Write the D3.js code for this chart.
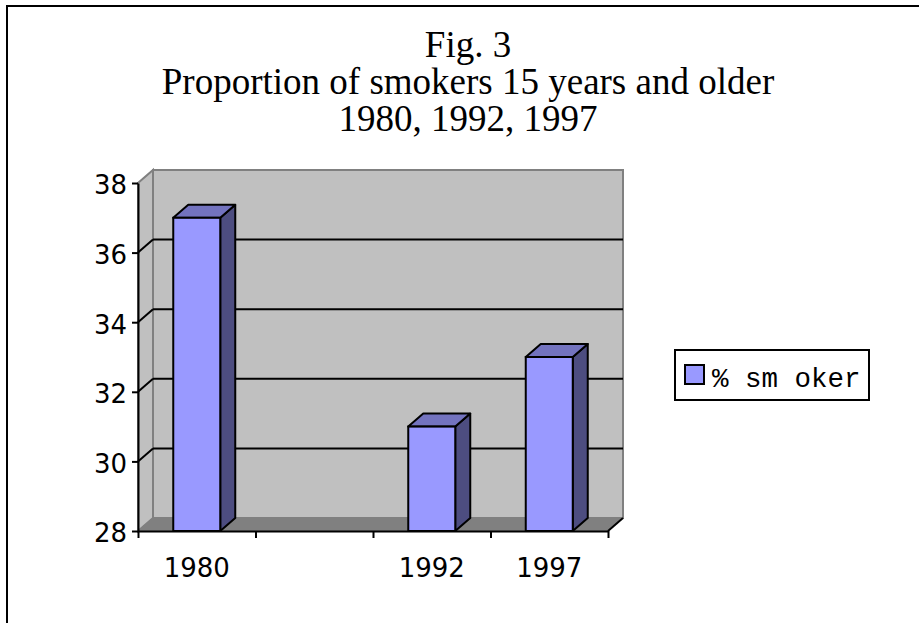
<!DOCTYPE html>
<html>
<head>
<meta charset="utf-8">
<script src="https://cdn.jsdelivr.net/npm/d3@7"></script>
<style>
  body { margin: 0; background: #fff; }
  svg { display: block; }
</style>
</head>
<body>
<div id="chart"></div>
<script>
// data
const categories = ['1980', '', '1992', '1997'];
const smokers = [37, null, 31, 33];
const yTicks = [28, 30, 32, 34, 36, 38];
const titleLines = ['Fig. 3', 'Proportion of smokers 15 years and older', '1980, 1992, 1997'];
const seriesName = '% sm oker';

const W = 919, H = 623;
// depth of the 3D box
const dx = 15, dy = -13;

const svg = d3.select('#chart')
  .append('svg')
  .attr('width', W)
  .attr('height', H);

// outer frame (only top and left edges fall inside the picture)
svg.append('rect')
  .attr('x', 7).attr('y', 6)
  .attr('width', W + 20).attr('height', H + 20)
  .attr('fill', 'none')
  .attr('stroke', '#000')
  .attr('stroke-width', 2);

// title
svg.append('g')
  .selectAll('text')
  .data(titleLines)
  .join('text')
  .attr('x', 468)
  .attr('y', (d, i) => 57 + i * 37)
  .attr('text-anchor', 'middle')
  .attr('font-family', '"Liberation Serif", "Times New Roman", serif')
  .attr('font-size', 37)
  .attr('fill', '#000')
  .text(d => d);

// scales
const x = d3.scaleBand()
  .domain(categories.map((c, i) => i))
  .range([138, 608]);
const xEdge = d3.scaleLinear()
  .domain([0, categories.length])
  .range([138, 608]);
const y = d3.scaleLinear()
  .domain([28, 38])
  .range([531, 183]);

const x0 = x.range()[0], x1 = x.range()[1];
const yTop = y(38), yBot = y(28);

// back wall
svg.append('rect')
  .attr('x', x0 + dx).attr('y', yTop + dy)
  .attr('width', x1 - x0).attr('height', yBot - yTop)
  .attr('fill', '#c0c0c0')
  .attr('stroke', '#808080')
  .attr('stroke-width', 2);

// side wall
svg.append('path')
  .attr('d', `M${x0},${yBot}L${x0},${yTop}L${x0 + dx},${yTop + dy}L${x0 + dx},${yBot + dy}Z`)
  .attr('fill', '#c0c0c0')
  .attr('stroke', '#808080')
  .attr('stroke-width', 2);

// floor
svg.append('path')
  .attr('d', `M${x0},${yBot}L${x1},${yBot}L${x1 + dx},${yBot + dy}L${x0 + dx},${yBot + dy}Z`)
  .attr('fill', '#808080')
  .attr('stroke', '#808080')
  .attr('stroke-width', 1);
svg.append('line')
  .attr('x1', x1).attr('y1', yBot)
  .attr('x2', x1 + dx).attr('y2', yBot + dy)
  .attr('stroke', '#000').attr('stroke-width', 2);

// gridlines on back wall + diagonals on side wall
const inner = yTicks.filter(t => t > 28 && t < 38);
svg.append('g')
  .selectAll('line')
  .data(inner)
  .join('line')
  .attr('x1', x0 + dx).attr('x2', x1 + dx)
  .attr('y1', d => y(d) + dy).attr('y2', d => y(d) + dy)
  .attr('stroke', '#000').attr('stroke-width', 2);
svg.append('g')
  .selectAll('line')
  .data(inner)
  .join('line')
  .attr('x1', x0).attr('x2', x0 + dx)
  .attr('y1', d => y(d)).attr('y2', d => y(d) + dy)
  .attr('stroke', '#000').attr('stroke-width', 2);

// bars
const barW = x.bandwidth() * 0.4;
const bars = svg.append('g')
  .selectAll('g')
  .data(smokers.map((v, i) => ({ i, v })).filter(d => d.v != null))
  .join('g');

bars.append('path') // side
  .attr('d', d => {
    const r = x(d.i) + (x.bandwidth() + barW) / 2, t = y(d.v);
    return `M${r},${yBot}L${r},${t}L${r + dx},${t + dy}L${r + dx},${yBot + dy}Z`;
  })
  .attr('fill', '#4d4d80')
  .attr('stroke', '#000').attr('stroke-width', 2)
  .attr('stroke-linejoin', 'round');

bars.append('path') // top
  .attr('d', d => {
    const l = x(d.i) + (x.bandwidth() - barW) / 2, t = y(d.v);
    return `M${l},${t}L${l + barW},${t}L${l + barW + dx},${t + dy}L${l + dx},${t + dy}Z`;
  })
  .attr('fill', '#7373bf')
  .attr('stroke', '#000').attr('stroke-width', 2)
  .attr('stroke-linejoin', 'round');

bars.append('rect') // front
  .attr('x', d => x(d.i) + (x.bandwidth() - barW) / 2)
  .attr('y', d => y(d.v))
  .attr('width', barW)
  .attr('height', d => yBot - y(d.v))
  .attr('fill', '#9999ff')
  .attr('stroke', '#000').attr('stroke-width', 2);

// axes
const axisFont = '"DejaVu Sans", Verdana, sans-serif';

const yAxis = svg.append('g')
  .attr('transform', `translate(${x0},0)`)
  .call(d3.axisLeft(y).tickValues(yTicks).tickSize(6).tickPadding(5).tickSizeOuter(0));
yAxis.selectAll('text')
  .attr('font-family', axisFont).attr('font-size', 26).attr('fill', '#000')
  .attr('dy', '0.42em');

const xTicks = svg.append('g')
  .attr('transform', `translate(0,${yBot})`)
  .call(d3.axisBottom(xEdge).ticks(categories.length).tickSize(7).tickFormat('').tickSizeOuter(0));

const xLabels = svg.append('g')
  .attr('transform', `translate(0,${yBot})`)
  .call(d3.axisBottom(x).tickSize(0).tickPadding(28).tickFormat(i => categories[i]));
xLabels.select('.domain').remove();
xLabels.selectAll('text').attr('font-family', axisFont).attr('font-size', 26).attr('fill', '#000');

svg.selectAll('.domain, .tick line').attr('stroke', '#000').attr('stroke-width', 2);

// legend
const legend = svg.append('g').attr('transform', 'translate(675,350)');
legend.append('rect')
  .attr('width', 194).attr('height', 50)
  .attr('fill', '#fff')
  .attr('stroke', '#000').attr('stroke-width', 2);
legend.append('rect')
  .attr('x', 10).attr('y', 15)
  .attr('width', 19).attr('height', 19)
  .attr('fill', '#9999ff')
  .attr('stroke', '#000').attr('stroke-width', 2);
legend.append('text')
  .attr('x', 37).attr('y', 37)
  .attr('font-family', '"Liberation Mono", "Courier New", monospace')
  .attr('font-size', 27.5)
  .attr('fill', '#000')
  .style('white-space', 'pre')
  .text(seriesName);
</script>
</body>
</html>
